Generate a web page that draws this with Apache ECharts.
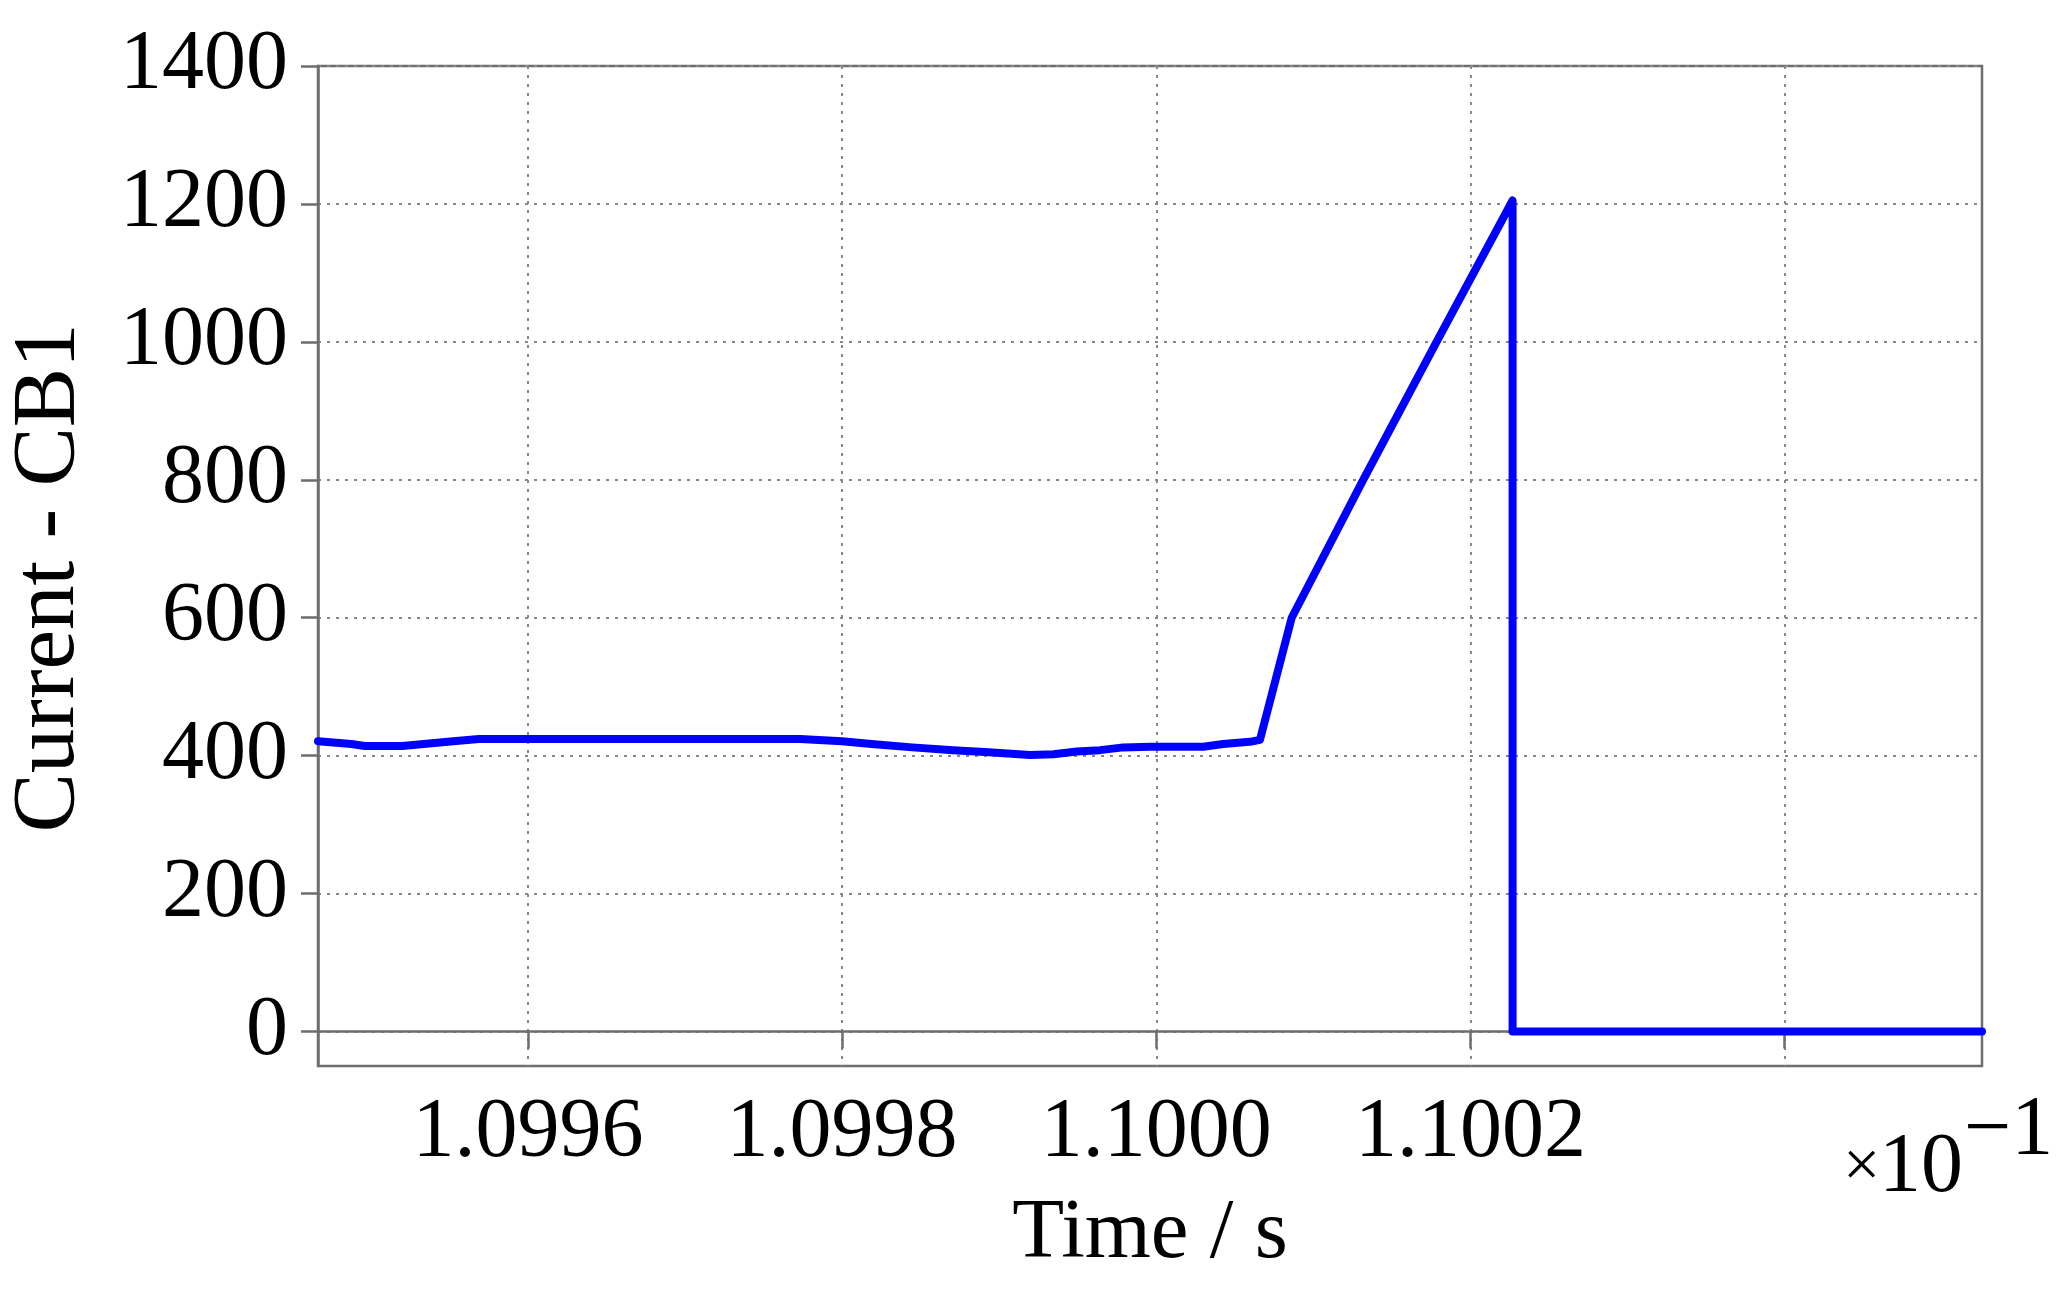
<!DOCTYPE html>
<html>
<head>
<meta charset="utf-8">
<script src="https://cdn.jsdelivr.net/npm/echarts@6/dist/echarts.min.js"></script>
<style>
  html, body { margin: 0; padding: 0; background: #fff; }
  #chart { width: 2066px; height: 1302px; }
</style>
</head>
<body>
<div id="chart"></div>
<script>
// Time in units of 1e-1 s (as labelled), current in A
const timeX = [1.0994664, 1.0994876, 1.0994962, 1.0995200, 1.0995525, 1.0995688, 1.0997733, 1.0997999,
  1.0998187, 1.0998447, 1.0998706, 1.0998934, 1.0999196, 1.0999345, 1.0999494, 1.0999642,
  1.0999790, 1.0999960, 1.1000299, 1.1000426, 1.1000596, 1.1000660, 1.1000862, 1.1001317,
  1.1001784, 1.1002268, 1.1002268, 1.1005256];
const currentY = [421, 417, 414, 414, 421, 424, 424, 421,
  417, 412, 408, 405, 401, 402, 406, 408,
  412, 413, 413, 417, 420, 423, 600, 800,
  1000, 1205, 0, 0];
const xTicks = [1.0996, 1.0998, 1.1000, 1.1002, 1.1004];
const xTickLabels = [1.0996, 1.0998, 1.1000, 1.1002];
const yTicks = [0, 200, 400, 600, 800, 1000, 1200, 1400];
const xName = 'Time / s';
const yName = 'Current - CB1';
const xMin = 1.0994664, xMax = 1.1005256, yMin = -50, yMax = 1400;

const FONT = 'Liberation Serif';
const AX = '#6e6e6e';
const chart = echarts.init(document.getElementById('chart'), null, { renderer: 'canvas' });
chart.setOption({
  animation: false,
  backgroundColor: '#fff',
  grid: { left: 318, right: 84, top: 66, bottom: 236, show: true, borderColor: AX, borderWidth: 2.5,
    containLabel: false, outerBoundsMode: 'none' },
  xAxis: {
    type: 'value', min: xMin, max: xMax,
    name: xName, nameLocation: 'middle', nameGap: 126,
    nameTextStyle: { fontFamily: FONT, fontSize: 85, color: '#000' },
    axisLine: { show: true, lineStyle: { color: AX, width: 2.5 } },
    axisTick: { show: true, inside: false, length: 17, customValues: xTicks, lineStyle: { color: AX, width: 2.5 } },
    axisLabel: { customValues: xTickLabels, margin: 26, fontFamily: FONT, fontSize: 84, color: '#000',
      formatter: v => v.toFixed(4) },
    splitLine: { show: true, lineStyle: { color: '#888', width: 2, type: [3, 6] } }
  },
  yAxis: {
    type: 'value', min: yMin, max: yMax,
    name: yName, nameLocation: 'middle', nameGap: 224, nameRotate: 90,
    nameTextStyle: { fontFamily: FONT, fontSize: 89, color: '#000', padding: [0, 24, 0, 0] },
    axisLine: { show: true, lineStyle: { color: AX, width: 2.5 } },
    axisTick: { show: true, inside: false, length: 17, customValues: yTicks, lineStyle: { color: AX, width: 2.5 } },
    axisLabel: { customValues: yTicks, margin: 30, fontFamily: FONT, fontSize: 84, color: '#000',
      formatter: v => String(v) },
    splitLine: { show: true, lineStyle: { color: '#888', width: 2, type: [3, 6] } }
  },
  series: [{
    type: 'line',
    data: timeX.map((t, i) => [t, currentY[i]]),
    showSymbol: false,
    smooth: false,
    lineStyle: { color: '#0000ff', width: 8, join: 'round', cap: 'round' },
    itemStyle: { color: '#0000ff' }
  }],
  graphic: [
    { type: 'text', left: 1843, top: 1136, style: { text: '×', fontFamily: FONT, fontSize: 66, fill: '#000' } },
    { type: 'text', left: 1879, top: 1127, style: { text: '10', fontFamily: FONT, fontSize: 84, fill: '#000' } },
    { type: 'text', left: 1964, top: 1090, style: { text: '−1', fontFamily: FONT, fontSize: 84, fill: '#000' } }
  ]
});
</script>
</body>
</html>
